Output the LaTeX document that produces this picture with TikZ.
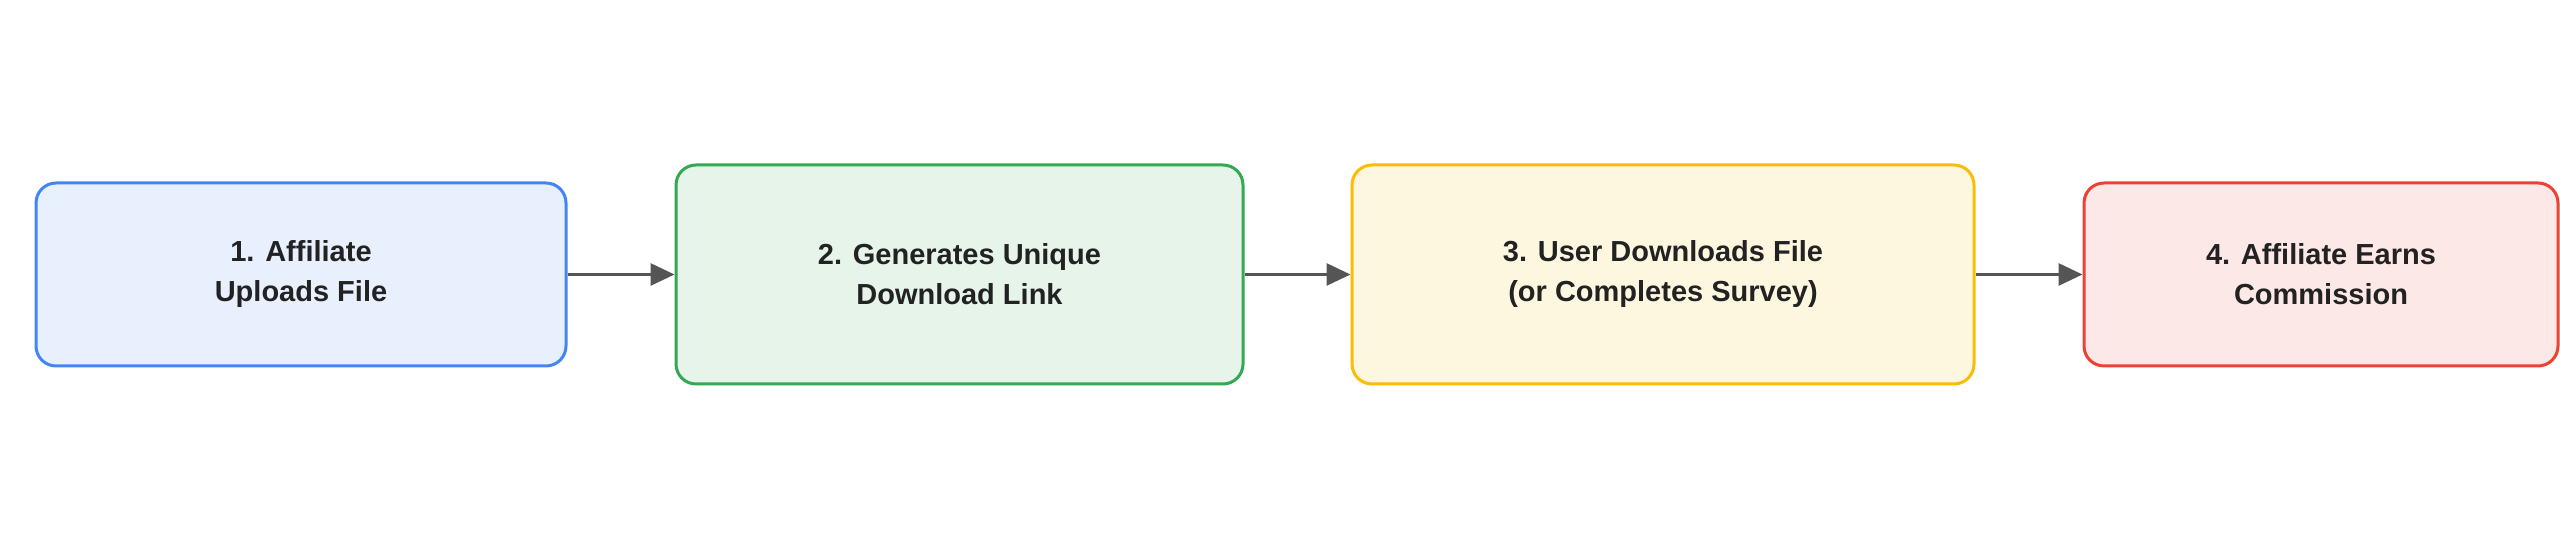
\documentclass[tikz,border=0pt]{standalone}
\usepackage{fontspec}
\setmainfont{Liberation Sans}
\usetikzlibrary{arrows.meta}
\definecolor{bB}{HTML}{4285F4}\definecolor{fB}{HTML}{E8F0FE}
\definecolor{bG}{HTML}{34A853}\definecolor{fG}{HTML}{E6F4EA}
\definecolor{bY}{HTML}{FBBC04}\definecolor{fY}{HTML}{FEF7E0}
\definecolor{bR}{HTML}{EA4335}\definecolor{fR}{HTML}{FCE8E6}
\definecolor{arr}{HTML}{555555}\definecolor{txt}{HTML}{222222}
\begin{document}
\begin{tikzpicture}[x=0.5pt,y=-0.5pt,
  box/.style={draw,line width=1.5pt,rounded corners=10pt,inner sep=0pt,
    font=\bfseries\fontsize{14.5}{20}\selectfont,text=txt,align=center},
  conn/.style={draw=arr,line width=1.5pt,-{Triangle[length=12pt,width=11pt]}}]
\useasboundingbox (0,0) rectangle (2560,549);
\node[box,draw=bB,fill=fB,minimum width=265pt,minimum height=91.5pt] (a) at (301,274.5) {1. Affiliate\\Uploads File};
\node[box,draw=bG,fill=fG,minimum width=283.5pt,minimum height=109.5pt] (b) at (959.5,274.5) {2. Generates Unique\\Download Link};
\node[box,draw=bY,fill=fY,minimum width=311pt,minimum height=109.5pt] (c) at (1663,274.5) {3. User Downloads File\\(or Completes Survey)};
\node[box,draw=bR,fill=fR,minimum width=237pt,minimum height=91.5pt] (d) at (2321,274.5) {4. Affiliate Earns\\Commission};
\draw[conn] (a) -- (b);
\draw[conn] (b) -- (c);
\draw[conn] (c) -- (d);
\end{tikzpicture}
\end{document}
